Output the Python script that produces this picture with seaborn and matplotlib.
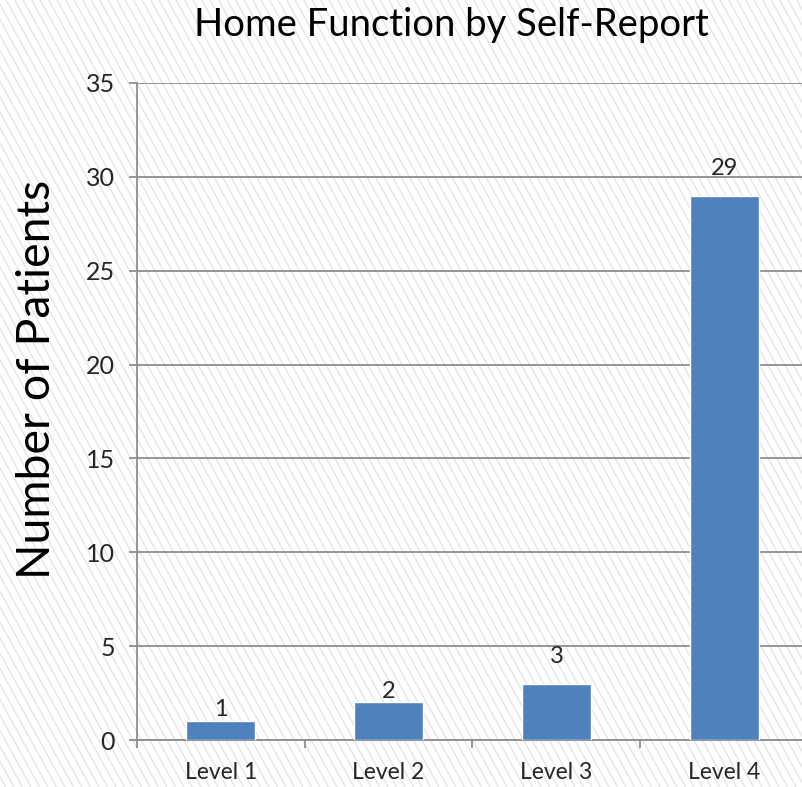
import numpy as np
import pandas as pd
import matplotlib
matplotlib.use("Agg")
import matplotlib.pyplot as plt
import seaborn as sns

# Patient counts for each home-function level
levels = ["Level 1", "Level 2", "Level 3", "Level 4"]
patients = [1, 2, 3, 29]
y_ticks = [0, 5, 10, 15, 20, 25, 30, 35]

df = pd.DataFrame({"level": levels, "patients": patients})

sns.set_theme(style="white")
plt.rcParams["font.family"] = ["Lato", "DejaVu Sans"]

W, H = 803, 787
fig = plt.figure(figsize=(W / 100, H / 100), dpi=100)
fig.patch.set_facecolor("white")

# Diagonal pinstripe backdrop across the whole canvas
bg = fig.add_axes([0, 0, 1, 1], zorder=-10)
bg.set_xlim(0, W)
bg.set_ylim(H, 0)
bg.axis("off")
slope = 0.55  # horizontal shift per pixel of descent
step = 8.5
for x0 in np.arange(-slope * H - 20, W + 20, step):
    bg.plot([x0, x0 + slope * H], [0, H], color="#e3e3e3", lw=0.9,
            solid_capstyle="butt")

left, right = 137 / W, 808 / W
bottom, top = 1 - 740 / H, 1 - 83 / H
ax = fig.add_axes([left, bottom, right - left, top - bottom])
ax.patch.set_alpha(0)

sns.barplot(data=df, x="level", y="patients", color="#4F81BD",
            saturation=1, width=0.41, ax=ax, zorder=3)

grid_c = "#8e8e8e"
ax.set_ylim(0, 35)
ax.set_xlim(-0.5, 3.5)
ax.set_yticks(y_ticks)
ax.yaxis.grid(True, color=grid_c, lw=1.3, zorder=0)
ax.set_axisbelow(True)
for s in ["top", "right"]:
    ax.spines[s].set_visible(False)
for s in ["left", "bottom"]:
    ax.spines[s].set_color(grid_c)
    ax.spines[s].set_linewidth(1.3)

ax.tick_params(axis="y", left=True, length=6, width=1.3, color=grid_c,
               pad=10, labelsize=18, labelcolor="#262626")
ax.set_xticks(range(len(levels)))
ax.set_xticklabels(levels)
ax.set_xticks(np.arange(-0.5, len(levels), 1.0), minor=True)
ax.tick_params(axis="x", which="major", bottom=True, length=0, pad=16,
               labelsize=16.5, labelcolor="#262626")
ax.tick_params(axis="x", which="minor", bottom=True, length=6, width=1.3,
               color=grid_c, direction="out")
ax.set_xlabel("")
ax.set_ylabel("")

# Value labels above bars
label_gap = [1, 0, 12, 12]
for i, v in enumerate(patients):
    ax.annotate(str(v), (i, v), xytext=(0, label_gap[i]),
                textcoords="offset points", ha="center", va="bottom",
                fontsize=17, color="#262626")

fig.text(451 / W, 1 - 25 / H, "Home Function by Self-Report",
         ha="center", va="center", fontsize=27.5, color="black")
fig.text(37 / W, 1 - 379 / H, "Number of Patients", rotation=90,
         ha="center", va="center", fontsize=33.5, color="black")

fig.savefig("out.png", dpi=100)
